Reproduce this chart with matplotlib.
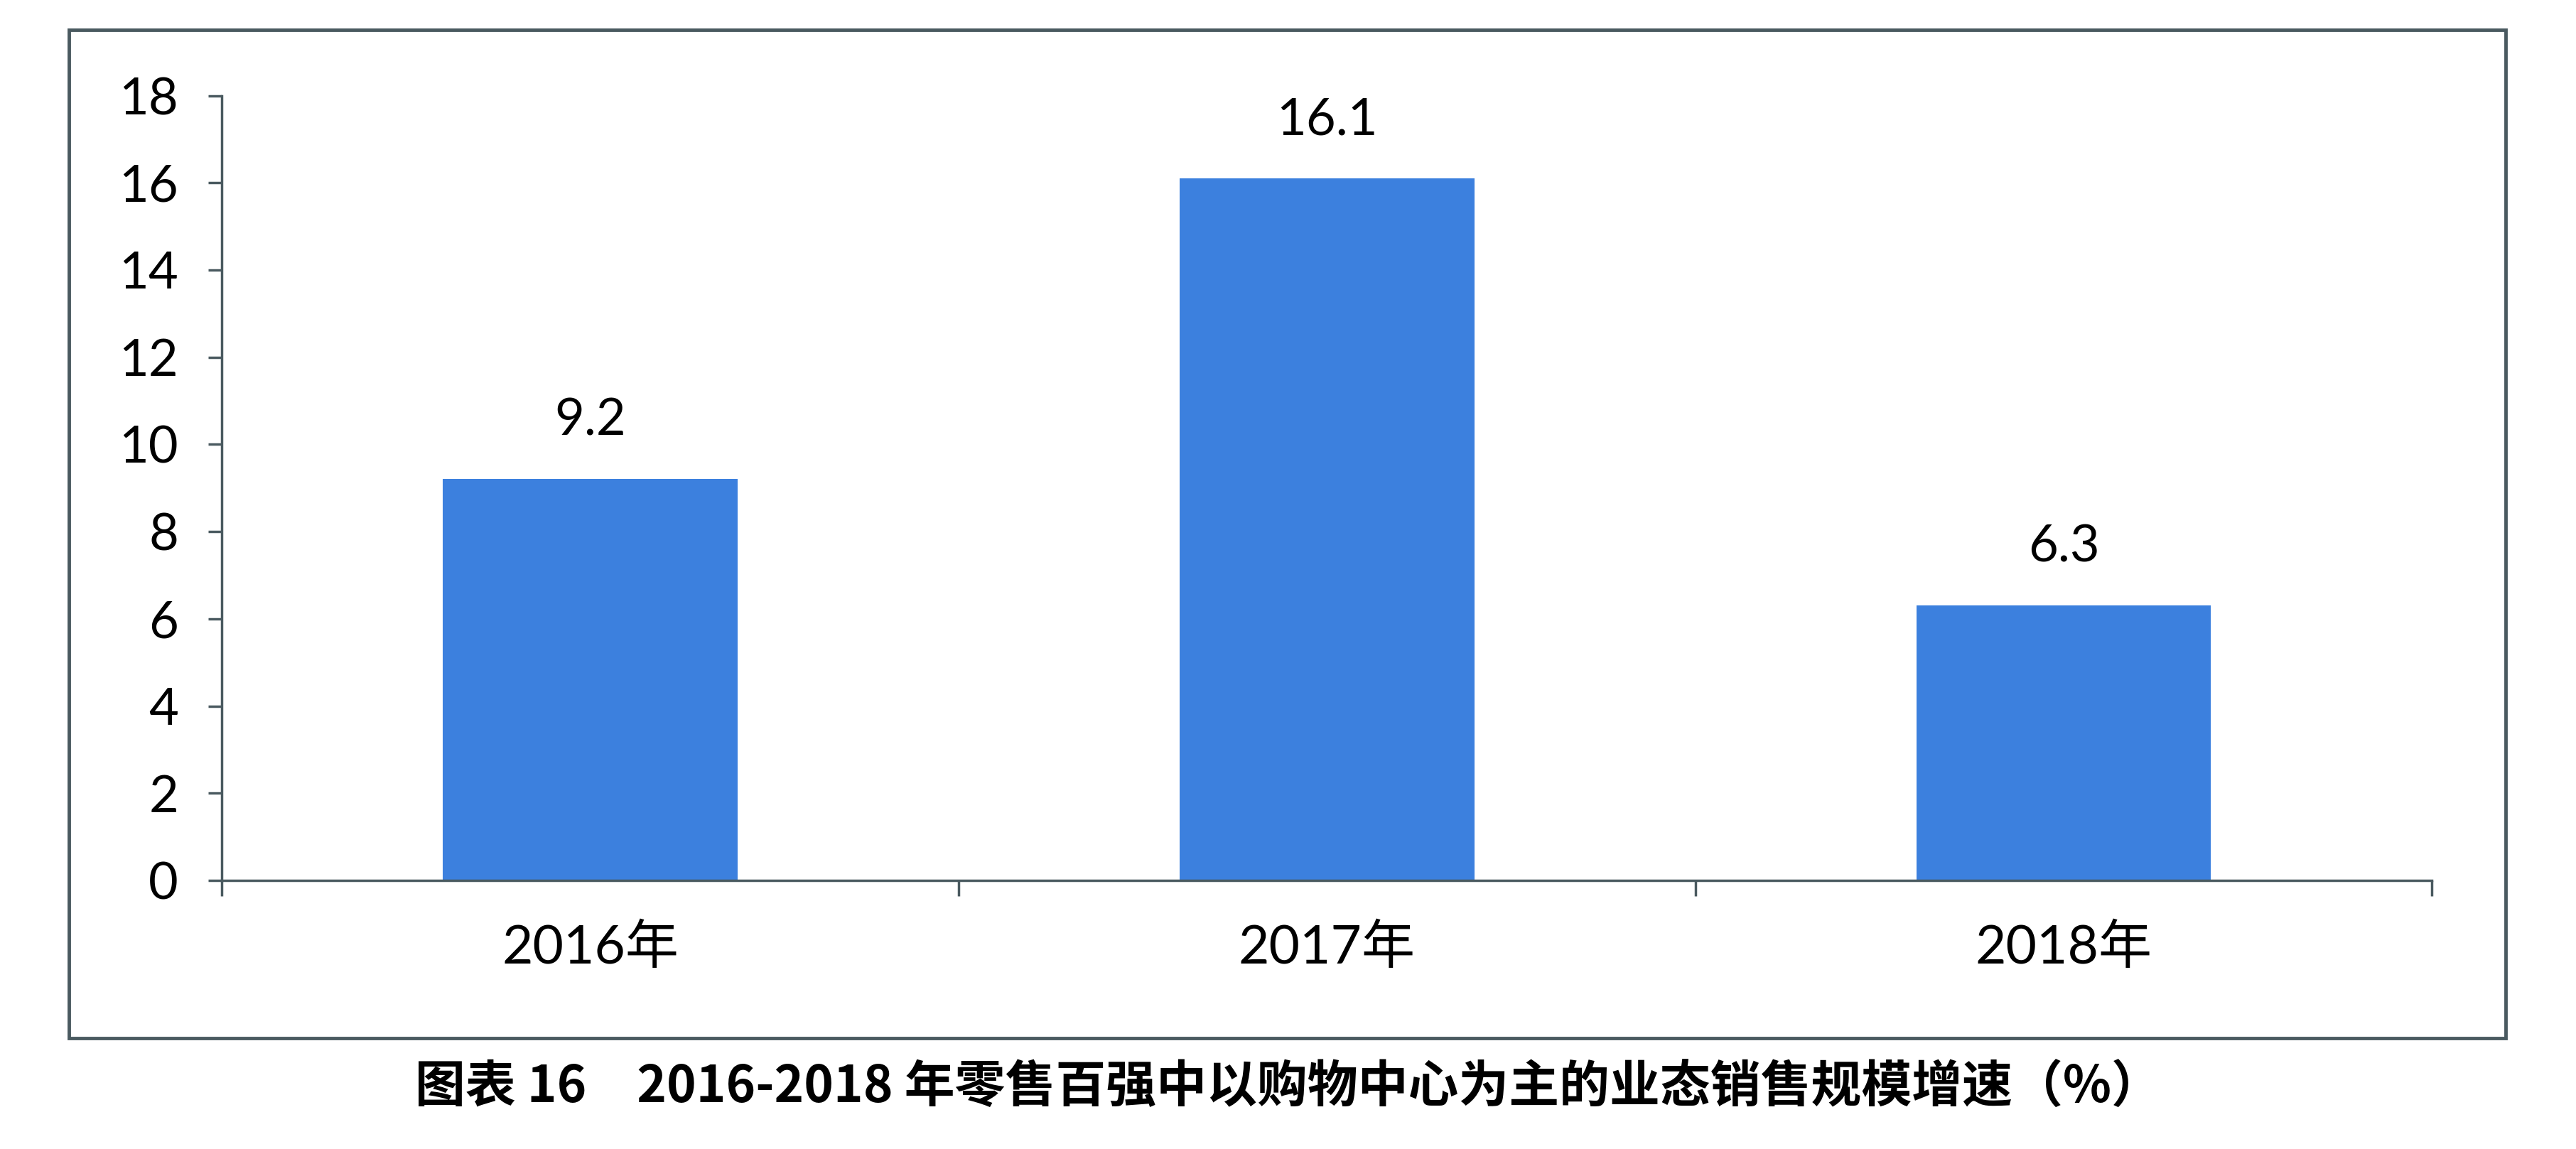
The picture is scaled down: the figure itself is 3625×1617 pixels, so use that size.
import matplotlib.pyplot as plt
from matplotlib.patches import Rectangle
from matplotlib.ticker import FixedLocator, NullFormatter

plt.rcParams['font.family'] = ['Lato', 'Noto Sans CJK SC', 'DejaVu Sans']

# Data
years = ['2016年', '2017年', '2018年']
growth = [9.2, 16.1, 6.3]
y_ticks = [0, 2, 4, 6, 8, 10, 12, 14, 16, 18]
title = '图表 16　2016-2018 年零售百强中以购物中心为主的业态销售规模增速（%）'

axis_color = '#4a5a60'
bar_color = '#3c80de'
text_color = '#000000'

fig = plt.figure(figsize=(36.25, 16.17), dpi=100)
ax = fig.add_axes([0.0861, 0.2338, 0.858, 0.683])

x = list(range(len(years)))
bars = ax.bar(x, growth, width=0.4, color=bar_color, zorder=2)

# value labels above bars
for xi, v in zip(x, growth):
    ax.annotate(f'{v}', (xi, v), xytext=(0, 36), textcoords='offset points',
                ha='center', va='bottom', fontsize=52, color=text_color)

ax.set_xlim(-0.5, len(years) - 0.5)
ax.set_ylim(0, 18)
ax.set_yticks(y_ticks)
ax.set_yticklabels([str(t) for t in y_ticks])

# category separators as major ticks, labels as minor ticks
ax.xaxis.set_major_locator(FixedLocator([i - 0.5 for i in range(len(years) + 1)]))
ax.xaxis.set_major_formatter(NullFormatter())
ax.xaxis.set_minor_locator(FixedLocator(x))
ax.set_xticklabels(years, minor=True)
ax.tick_params(axis='x', which='major', direction='out', length=16, width=2.5, color=axis_color)
ax.tick_params(axis='x', which='minor', length=0, pad=44, labelsize=54, labelcolor=text_color)
ax.tick_params(axis='y', direction='out', length=14, width=2.5, color=axis_color,
               pad=30, labelsize=52, labelcolor=text_color)

for s in ['top', 'right']:
    ax.spines[s].set_visible(False)
for s in ['left', 'bottom']:
    ax.spines[s].set_color(axis_color)
    ax.spines[s].set_linewidth(2.5)

# outer frame around the chart
frame = Rectangle((0.0268, 0.0965), 0.9459, 0.8775, transform=fig.transFigure,
                  fill=False, edgecolor=axis_color, linewidth=3.5)
fig.patches.append(frame)

fig.text(0.5, 0.054, title, ha='center', va='center', fontsize=51,
         fontweight='bold', family=['Noto Sans CJK SC', 'DejaVu Sans'])

fig.savefig('out.png', dpi=100)
